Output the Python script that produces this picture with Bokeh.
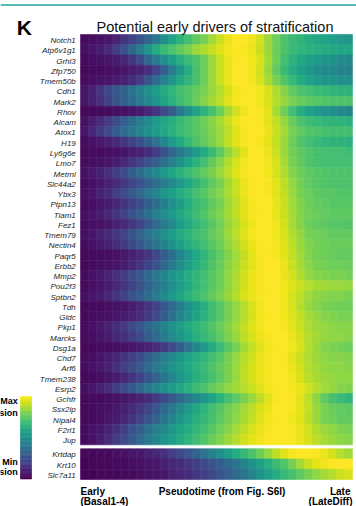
from bokeh.plotting import figure
from bokeh.models import Range1d, ColumnDataSource
from bokeh.transform import linear_cmap
from bokeh.palettes import Viridis256
from bokeh.core.properties import value
from bokeh.embed import file_html
from bokeh.resources import INLINE

# ---------------- data (0 = min, 100 = max expression) ----------------
genes_main = ["Notch1", "Atp6v1g1", "Grhl3", "Zfp750", "Tmem50b", "Cdh1", "Mark2", "Rhov",
              "Alcam", "Atox1", "H19", "Ly6g6e", "Lmo7", "Metrnl", "Slc44a2", "Ybx3", "Ptpn13",
              "Tiam1", "Fez1", "Tmem79", "Nectin4", "Paqr5", "Erbb2", "Mmp2", "Pou2f3", "Sptbn2",
              "Tdh", "Gldc", "Pkp1", "Marcks", "Dsg1a", "Chd7", "Arf6", "Tmem238", "Esrp2",
              "Gchfr", "Ssx2ip", "Nipal4", "F2rl1", "Jup"]
genes_late = ["Krtdap", "Krt10", "Slc7a11"]
pseudotime_bins = list(range(34))

expr_main = [
    [3,4,5,7,10,15,20,25,32,40,50,58,65,70,75,80,86,92,97,100,100,98,93,85,78,72,68,65,62,60,58,56,54,52],
    [4,6,8,12,18,25,33,42,52,62,68,72,76,80,85,88,91,95,98,100,99,97,92,85,78,72,68,66,64,63,62,61,60,60],
    [3,4,5,6,8,11,16,24,33,42,50,57,63,68,72,78,85,92,97,100,100,98,94,86,78,70,65,60,57,55,53,51,49,48],
    [2,3,3,4,5,6,8,10,14,20,30,42,52,62,70,78,85,92,97,100,100,98,93,85,76,68,62,57,53,50,48,47,45,44],
    [3,4,5,6,8,10,13,18,26,35,44,52,60,66,71,78,85,92,97,100,100,98,94,87,80,73,67,62,58,55,53,52,50,50],
    [6,10,16,22,27,32,38,44,50,56,62,66,70,73,76,80,84,89,94,98,100,100,98,94,88,82,76,72,70,68,67,66,65,65],
    [6,9,14,20,26,31,36,42,47,52,58,64,69,73,77,82,86,90,95,99,100,100,98,94,89,84,80,77,75,74,73,72,72,72],
    [2,2,3,3,4,5,6,8,11,15,22,30,40,50,58,65,71,78,86,93,98,100,99,95,87,78,70,63,58,54,52,50,48,46],
    [5,8,12,18,24,30,36,42,48,54,59,63,67,71,74,78,82,87,92,97,100,100,99,96,91,84,77,72,69,67,66,65,65,64],
    [6,11,17,23,29,35,40,45,50,55,60,64,68,71,74,77,81,85,90,95,99,100,100,97,92,86,80,76,73,72,71,70,70,70],
    [3,5,7,9,12,16,20,25,31,38,46,54,61,67,72,76,80,85,91,96,99,100,99,96,91,85,78,73,70,68,66,65,65,64],
    [2,3,3,4,5,6,8,10,13,18,25,33,40,47,54,61,68,75,83,90,96,100,100,97,92,85,79,75,73,71,70,70,70,69],
    [3,4,5,6,8,11,15,20,25,31,37,44,51,58,64,70,76,82,88,94,98,100,100,98,94,87,80,76,73,71,70,70,70,70],
    [5,7,10,14,19,24,30,36,42,48,54,59,64,68,72,76,80,85,90,95,99,100,100,98,94,88,82,78,75,74,73,72,72,72],
    [3,5,7,9,12,16,20,25,30,36,42,48,54,60,65,70,75,80,86,92,97,100,100,99,96,90,84,79,76,74,73,72,72,72],
    [4,6,9,13,18,23,28,34,40,46,52,57,62,66,70,74,78,82,87,92,97,100,100,99,96,91,85,80,77,75,74,74,73,73],
    [3,4,6,8,11,15,19,24,30,36,43,50,56,62,67,71,75,80,85,90,95,99,100,100,97,92,86,81,78,76,75,74,74,74],
    [4,6,8,11,15,20,25,31,37,43,49,55,60,65,69,73,77,81,86,91,96,99,100,100,97,92,87,82,79,77,76,75,75,75],
    [3,4,5,7,9,12,16,21,27,34,41,48,55,61,66,70,74,79,84,89,94,98,100,100,98,93,87,82,78,76,75,74,74,73],
    [4,6,9,12,16,21,26,32,38,44,50,56,61,65,69,72,76,80,85,90,95,99,100,100,98,94,89,84,80,78,77,76,76,76],
    [3,5,7,10,13,17,22,27,33,39,45,51,57,62,66,70,74,78,83,88,93,97,100,100,99,95,90,85,81,79,78,77,77,77],
    [2,3,3,4,5,7,9,12,16,22,29,37,45,53,60,66,71,76,81,86,91,96,99,100,99,96,91,86,82,79,78,77,76,76],
    [2,3,4,5,6,8,11,15,20,26,33,41,49,56,62,67,72,77,82,87,92,96,99,100,100,97,92,87,83,80,79,78,78,77],
    [3,5,7,10,14,18,23,28,34,40,46,52,57,62,66,70,74,78,83,88,93,97,99,100,100,97,93,88,84,82,81,80,80,79],
    [3,4,6,8,11,15,20,26,32,38,44,50,56,61,66,70,74,78,83,88,93,97,99,100,100,98,95,92,89,87,86,85,85,84],
    [4,6,8,11,15,20,25,30,36,42,48,54,59,64,68,72,76,80,84,89,94,97,99,100,100,98,94,90,86,83,82,81,81,80],
    [2,3,3,4,5,6,8,11,15,20,27,34,42,50,57,63,69,74,79,84,89,94,98,100,100,98,94,89,85,82,80,79,78,78],
    [2,3,4,5,6,8,10,13,17,23,30,37,45,52,58,64,69,74,79,84,89,94,98,100,100,98,95,91,87,84,82,81,80,80],
    [3,5,7,10,13,17,22,27,33,39,45,51,56,61,65,69,73,77,81,86,91,95,98,100,100,99,96,92,88,85,84,83,82,82],
    [3,4,6,8,11,14,18,23,29,35,41,47,53,58,63,67,71,75,80,85,90,94,97,99,100,100,97,93,89,86,84,83,83,82],
    [2,2,3,3,4,5,6,8,10,13,17,23,30,38,46,54,61,68,74,80,86,91,95,98,100,100,98,94,89,85,82,80,79,78],
    [3,4,6,8,11,15,19,24,30,36,42,48,53,58,62,66,70,74,79,84,89,93,97,99,100,99,96,92,88,85,83,82,82,81],
    [3,5,7,10,14,18,23,28,34,40,46,51,56,60,64,68,72,76,80,85,90,94,97,99,100,100,97,93,89,86,84,83,83,82],
    [2,3,4,6,8,11,15,20,26,32,39,46,52,58,63,67,71,75,80,85,90,94,97,99,100,100,98,94,90,87,85,84,83,83],
    [4,6,9,13,18,23,28,34,40,45,50,55,60,64,68,72,76,80,83,86,89,92,95,98,100,100,99,97,93,89,86,84,82,81],
    [2,3,3,4,5,6,8,10,13,17,22,28,34,40,46,52,58,64,70,75,80,85,90,95,99,100,99,96,90,83,76,71,68,66],
    [2,3,4,5,7,9,12,16,21,27,34,41,48,54,60,65,70,74,78,82,86,90,94,97,100,100,99,96,91,85,80,77,76,75],
    [2,3,4,6,8,11,15,20,26,32,39,46,52,58,63,67,71,75,79,83,87,91,95,98,100,100,98,95,90,85,80,78,76,76],
    [3,5,7,10,14,19,25,31,37,43,48,53,58,62,66,70,74,78,82,86,90,94,97,99,100,100,99,97,93,88,85,83,81,80],
    [3,5,8,12,17,22,28,34,40,46,51,56,61,65,69,73,77,81,85,89,93,96,98,100,100,100,99,97,94,90,87,85,83,82],
]
expr_late = [
    [2,2,3,3,4,5,6,7,9,11,14,18,22,27,32,38,44,50,56,62,67,72,78,84,90,95,99,100,100,99,97,93,89,86],
    [1,2,2,2,3,3,4,5,6,7,9,11,13,16,19,22,26,30,34,39,45,51,57,63,68,73,79,86,92,96,98,100,100,100],
    [1,1,2,2,2,3,3,4,5,6,7,9,11,13,16,19,22,26,30,34,39,45,51,57,62,67,71,75,79,83,86,89,92,94],
]

title_text = "Potential early drivers of stratification"
panel_letter = "K"
axis_early = ["Early", "(Basal1-4)"]
axis_mid = "Pseudotime (from Fig. S6I)"
axis_late = ["Late", "(LateDiff)"]
legend_max = ["Max", "expression"]
legend_min = ["Min", "expression"]

# ---------------- layout (pixels inside the figure) ----------------
W, H = 356, 506
FX0, FX1 = 80, 352          # heatmap left/right
FY0, FY1 = 34, 479          # heatmap top/bottom
GAP = 0.375                 # gap between the two blocks, in rows
n_bins = len(pseudotime_bins)
n_main, n_late = len(genes_main), len(genes_late)
total_rows = n_main + GAP + n_late
px_x = (FX1 - FX0) / n_bins
px_y = (FY1 - FY0) / total_rows

def dx(px):
    return (px - FX0) / px_x

def dy(py):
    return (py - FY0) / px_y

p = figure(width=W, height=H, x_range=Range1d(dx(0), dx(W)), y_range=Range1d(dy(H), dy(0)),
           x_axis_type=None, y_axis_type=None, toolbar_location=None, output_backend="svg",
           min_border=0)
p.outline_line_color = None
p.background_fill_color = "white"
p.border_fill_color = "white"

# heatmap cells
L, R, T, B, V = [], [], [], [], []
row_top_main = [i for i in range(n_main)]
row_top_late = [n_main + GAP + j for j in range(n_late)]
for tops, block in ((row_top_main, expr_main), (row_top_late, expr_late)):
    for t, row in zip(tops, block):
        for b, v in zip(pseudotime_bins, row):
            L.append(b); R.append(b + 1); T.append(t); B.append(t + 1); V.append(v)
src = ColumnDataSource(dict(l=L, r=R, t=T, b=B, v=V))
cmap = linear_cmap("v", Viridis256, 0, 100)
p.quad(left="l", right="r", top="t", bottom="b", source=src,
       fill_color=cmap, line_color=cmap, line_width=0.6)

# gene labels
centers = [t + 0.5 for t in row_top_main + row_top_late]
lab_src = ColumnDataSource(dict(x=[0] * len(centers), y=centers, text=genes_main + genes_late))
p.text(x="x", y="y", text="text", source=lab_src, x_offset=-4.7, y_offset=1,
       text_align="right", text_baseline="middle", text_font=value("Liberation Sans"),
       text_font_style="italic", text_font_size="8px", text_color="#1e1e1e")

# teal rule at the top
p.segment(x0=dx(0), x1=dx(W), y0=dy(4.5), y1=dy(4.5), line_color="#1fa39a", line_width=1.6)

# panel letter and title
p.text(x=[dx(16.2)], y=[dy(27.3)], text=[panel_letter], text_align="left",
       text_baseline="alphabetic", text_font=value("Liberation Sans"), text_font_style="bold",
       text_font_size="21px", text_color="black")
p.text(x=[dx(214.5)], y=[dy(26.7)], text=[title_text], text_align="center",
       text_baseline="alphabetic", text_font=value("Liberation Sans"),
       text_font_size="14.5px", text_color="#111111")

# bottom pseudotime labels
bold = dict(text_baseline="alphabetic", text_font=value("Liberation Sans"),
            text_font_style="bold", text_font_size="10px", text_color="black")
y_line1, y_line2 = 491.0, 501.0
p.text(x=[0, 0], y=[dy(y_line1), dy(y_line2)], text=axis_early, text_align="left", **bold)
p.text(x=[dx(221.5)], y=[dy(y_line1)], text=[axis_mid], text_align="center", **bold)
p.text(x=[dx(350), dx(352)], y=[dy(y_line1), dy(y_line2)], text=axis_late, text_align="right", **bold)

# colour legend
CB_X0, CB_X1 = 20, 31
CB_Y0, CB_Y1 = 396, 478.5
steps = 64
cb_colors = [Viridis256[int(round((steps - 1 - k) * 255 / (steps - 1)))] for k in range(steps)]
hstep = (CB_Y1 - CB_Y0) / steps
p.quad(left=[dx(CB_X0)] * steps, right=[dx(CB_X1)] * steps,
       top=[dy(CB_Y0 + k * hstep) for k in range(steps)],
       bottom=[dy(CB_Y0 + (k + 1) * hstep) for k in range(steps)],
       fill_color=cb_colors, line_color=cb_colors, line_width=0.6)
leg = dict(text_align="right", text_baseline="middle", text_font=value("Liberation Sans"),
           text_font_style="bold", text_font_size="9px", text_color="black")
p.text(x=[dx(17.3)] * 2, y=[dy(400.5), dy(412.5)], text=legend_max, **leg)
p.text(x=[dx(17.3)] * 2, y=[dy(461), dy(471.5)], text=legend_min, **leg)

open("out.html", "w").write(file_html(p, INLINE))
